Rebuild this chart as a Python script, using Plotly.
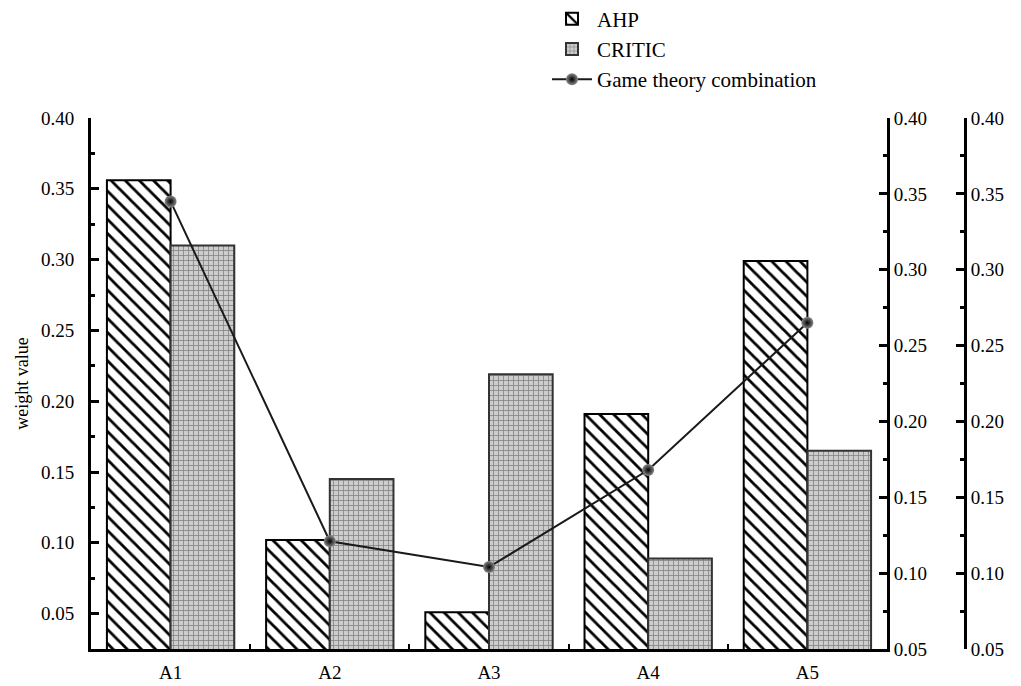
import plotly.graph_objects as go

categories = ["A1", "A2", "A3", "A4", "A5"]
ahp = [0.356, 0.102, 0.051, 0.191, 0.299]
critic = [0.310, 0.145, 0.219, 0.089, 0.165]
game = [0.345, 0.121, 0.104, 0.168, 0.265]

FONT = "Liberation Serif, Times New Roman, serif"

fig = go.Figure()
fig.add_trace(go.Bar(
    x=categories, y=ahp, name="AHP", yaxis="y",
    marker=dict(color="white", line=dict(color="black", width=2),
                pattern=dict(shape="\\", fgcolor="black", bgcolor="white",
                             size=10, solidity=0.28, fillmode="replace")),
))
fig.add_trace(go.Bar(
    x=categories, y=critic, name="CRITIC", yaxis="y",
    marker=dict(color="#c8c8c8", line=dict(color="#333333", width=2),
                pattern=dict(shape="+", fgcolor="#858585", bgcolor="#cdcdcd",
                             size=5, solidity=0.3, fillmode="replace")),
))
fig.add_trace(go.Scatter(
    x=categories, y=game, name="Game theory combination", yaxis="y2",
    mode="lines+markers",
    line=dict(color="#1a1a1a", width=2),
    marker=dict(size=12, color="#8a8a8a",
                gradient=dict(type="radial", color="#000000"),
                line=dict(width=0)),
))
# invisible helper so the third axis is drawn
fig.add_trace(go.Scatter(
    x=categories, y=game, yaxis="y3", mode="lines",
    line=dict(width=0), opacity=0, showlegend=False, hoverinfo="skip",
))

tickfont = dict(family=FONT, size=19, color="black")
common_y = dict(
    showline=True, linewidth=3, linecolor="black",
    ticks="inside", ticklen=8, tickwidth=3, tickcolor="black",
    tickformat=".2f", dtick=0.05, tick0=0.05,
    showgrid=False, zeroline=False, tickfont=tickfont,
    minor=dict(ticks="inside", ticklen=4, tickwidth=3, tickcolor="black",
               dtick=0.025, tick0=0.025, showgrid=False),
)

fig.update_layout(
    width=1021, height=686,
    margin=dict(l=91, r=40, t=118, b=37, autoexpand=False),
    paper_bgcolor="white", plot_bgcolor="white",
    barmode="group", bargap=0.2, bargroupgap=0,
    font=dict(family=FONT, size=19, color="black"),
    xaxis=dict(domain=[0, 796 / 890], showline=True, linewidth=3, linecolor="black",
               ticks="inside", tickson="boundaries", ticklen=5, tickwidth=2,
               tickcolor="black", showgrid=False, tickfont=tickfont,
               ticklabelstandoff=4),
    yaxis=dict(range=[0.025, 0.40],
               title=dict(text="weight value", font=dict(family=FONT, size=18), standoff=8),
               ticklabelstandoff=10,
               **common_y),
    yaxis2=dict(range=[0.05, 0.40], overlaying="y", side="right", anchor="x",
                **common_y),
    yaxis3=dict(range=[0.05, 0.40], overlaying="y", side="right", anchor="free",
                position=(965 - 91) / 890, **common_y),
    legend=dict(x=(547 - 91) / 890, y=1.225, xanchor="left", yanchor="top",
                bgcolor="rgba(0,0,0,0)", font=dict(family=FONT, size=21),
                tracegroupgap=0, itemwidth=40),
    showlegend=True,
)

fig.write_html("out.html")
